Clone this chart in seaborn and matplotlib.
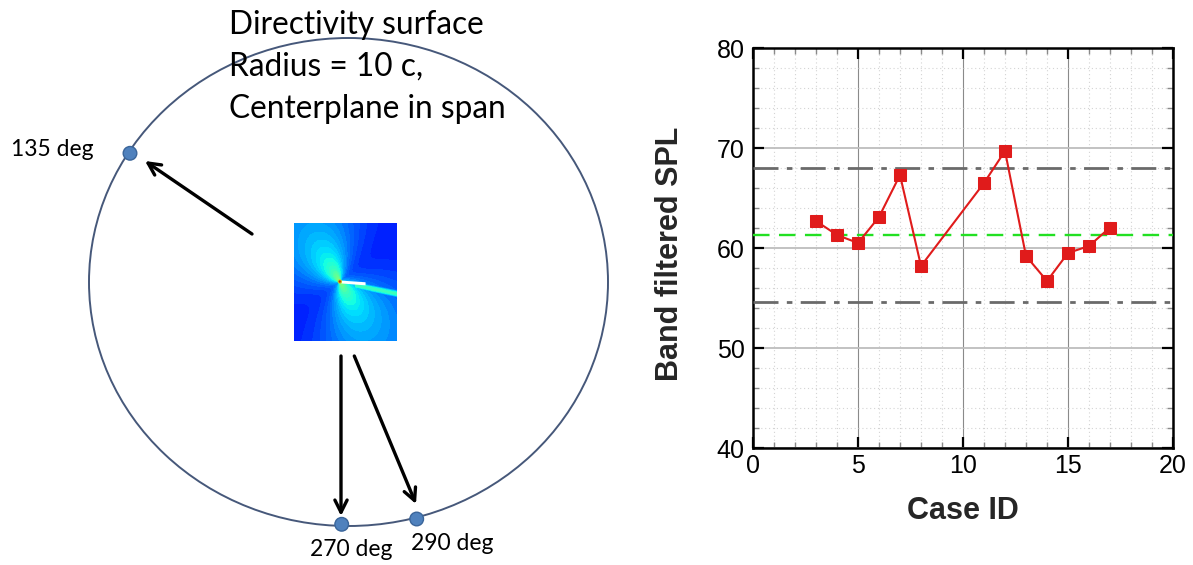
import numpy as np
import matplotlib
matplotlib.use("Agg")
import matplotlib.pyplot as plt
from matplotlib.patches import Ellipse, Circle
from matplotlib.ticker import MultipleLocator
import seaborn as sns

# ---------------- data ----------------
case_ids = [3, 4, 5, 6, 7, 8, 11, 12, 13, 14, 15, 16, 17]
spl = [62.7, 61.3, 60.5, 63.1, 67.3, 58.2, 66.5, 69.7, 59.2, 56.7, 59.5, 60.2, 62.05]
mean_level = 61.3
upper_level = 68.0
lower_level = 54.6
x_ticks = [0, 5, 10, 15, 20]
y_ticks = [40, 50, 60, 70, 80]
title_lines = ["Directivity surface", "Radius = 10 c,", "Centerplane in span"]
angle_labels = ["135 deg", "270 deg", "290 deg"]

sns.set_style("white")
plt.rcParams["font.family"] = ["Liberation Sans", "DejaVu Sans"]

W, H = 1193, 565
fig = plt.figure(figsize=(W / 100, H / 100), dpi=100)

# ---------------- left diagram (pixel coordinates) ----------------
axL = fig.add_axes([0, 0, 1, 1])
axL.set_xlim(0, W)
axL.set_ylim(H, 0)
axL.axis("off")

axL.add_patch(Ellipse((348.5, 282), 2 * 259.5, 2 * 244, fill=False,
                      ec="#46587A", lw=1.4, zorder=2))

# flow-field thumbnail (decorative raster)
nx, ny = 160, 180
u = np.linspace(0, 1, nx)
v = np.linspace(0, 1, ny)
U, V = np.meshgrid(u, v)
du = U - 0.445
dv = -(V - 0.496)
r = np.sqrt(du ** 2 + dv ** 2)
th = np.arctan2(dv, du)
lobe = np.sin(th - np.deg2rad(35)) ** 2
field = 0.14 + 0.24 * lobe * np.exp(-r / 0.9) + 0.10 * np.exp(-r / 0.10) \
    + 0.05 * np.exp(-r / 0.5)
vc = 0.50 + 0.10 * np.clip(du, 0, None) / 0.555
wake = np.exp(-((V - vc) / 0.035) ** 2) * (du > 0.15) * 0.42
field = np.maximum(field, wake)
x0, x1, y0, y1 = 294, 397, 223, 341
axL.contourf(x0 + U * (x1 - x0), y0 + V * (y1 - y0), field,
             levels=np.linspace(0, 1, 61), cmap="jet", vmin=0, vmax=1, zorder=3)
# airfoil (white streak)
fx = np.linspace(0.455, 0.69, 20)
axL.fill_between(x0 + fx * (x1 - x0),
                 y0 + (0.484 + 0.06 * (fx - 0.455)) * (y1 - y0),
                 y0 + (0.508 + 0.07 * (fx - 0.455)) * (y1 - y0),
                 color="white", zorder=4, lw=0)
axL.add_patch(Circle((x0 + 0.445 * (x1 - x0), y0 + 0.496 * (y1 - y0)), 2.2,
                     fc="#c8d020", ec="none", zorder=5))
axL.add_patch(Circle((x0 + 0.445 * (x1 - x0), y0 + 0.496 * (y1 - y0)), 1.2,
                     fc="#d03010", ec="none", zorder=5))

# arrows
arrow_kw = dict(arrowstyle="->", lw=2.4, color="black", mutation_scale=22,
                shrinkA=0, shrinkB=0)
for start, end in [((252, 234), (145, 161)),
                   ((341, 356), (341, 516)),
                   ((354.3, 356), (416, 504))]:
    axL.annotate("", xy=end, xytext=start, arrowprops=arrow_kw, zorder=5)

# dots
for cx, cy in [(130, 153.3), (341.7, 524.3), (416.7, 519)]:
    axL.add_patch(Circle((cx, cy), 6.8, fc="#4F81BD", ec="#3A659A", lw=1.0, zorder=6))

font_diag = "Lato"
for i, line in enumerate(title_lines):
    axL.text(229, 33.5 + 42.3 * i, line, fontsize=22.8, family=font_diag,
             va="baseline", ha="left", color="black", zorder=7)
for lab, (tx, ty) in zip(angle_labels, [(11, 156), (310, 555.5), (411, 549.5)]):
    axL.text(tx, ty, lab, fontsize=16.5, family=font_diag, va="baseline",
             ha="left", color="black", zorder=7)

# ---------------- right chart ----------------
ax = fig.add_axes([753 / W, (H - 448) / H, 420 / W, 400 / H])
ax.set_facecolor("white")

ax.axhline(upper_level, color="#6a6a6a", lw=2.0, ls=(0, (9, 3, 2, 3)), zorder=3)
ax.axhline(lower_level, color="#6a6a6a", lw=2.0, ls=(0, (9, 3, 2, 3)), zorder=3)
ax.axhline(mean_level, color="#22e022", lw=1.7, ls=(0, (7, 4)), zorder=3)

sns.lineplot(x=case_ids, y=spl, ax=ax, color="#e01b1b", marker="s",
             markersize=8.5, markeredgecolor="#e01b1b", lw=1.5, zorder=5,
             sort=False)

ax.set_xlim(0, 20)
ax.set_ylim(40, 80)
ax.set_xticks(x_ticks)
ax.set_yticks(y_ticks)
ax.set_xticklabels([str(t) for t in x_ticks])
ax.set_yticklabels([str(t) for t in y_ticks])
ax.xaxis.set_minor_locator(MultipleLocator(1))
ax.yaxis.set_minor_locator(MultipleLocator(2))

ax.grid(False)
ax.grid(True, which="minor", axis="both", color="#d4d4d4", lw=0.8, ls=(0, (1, 2.5)), zorder=0)
ax.grid(True, which="major", axis="y", color="#bdbdbd", lw=1.3, ls="-", zorder=1)
ax.grid(True, which="major", axis="x", color="#8a8a8a", lw=0.8, ls="-", zorder=1)
ax.set_axisbelow(True)

ax.tick_params(which="major", direction="in", length=8, width=1.6,
               top=True, right=True, bottom=True, left=True,
               labelsize=18, colors="black")
ax.tick_params(axis="x", which="major", pad=4.5)
ax.tick_params(axis="y", which="major", pad=6.0)
ax.tick_params(which="minor", direction="in", length=4, width=1.0, color="#8a8a8a",
               top=True, right=True, bottom=True, left=True)
for s in ax.spines.values():
    s.set_visible(True)
    s.set_color("black")
    s.set_linewidth(1.8)

ax.set_xlabel("Case ID", fontsize=22, fontweight="bold")
ax.set_ylabel("Band filtered SPL", fontsize=22, fontweight="bold")
ax.xaxis.set_label_coords(0.5, -0.119)
ax.yaxis.set_label_coords(-0.163, 0.486)
ax.xaxis.label.set_va("top")

fig.savefig("out.png", dpi=100, facecolor="white")
